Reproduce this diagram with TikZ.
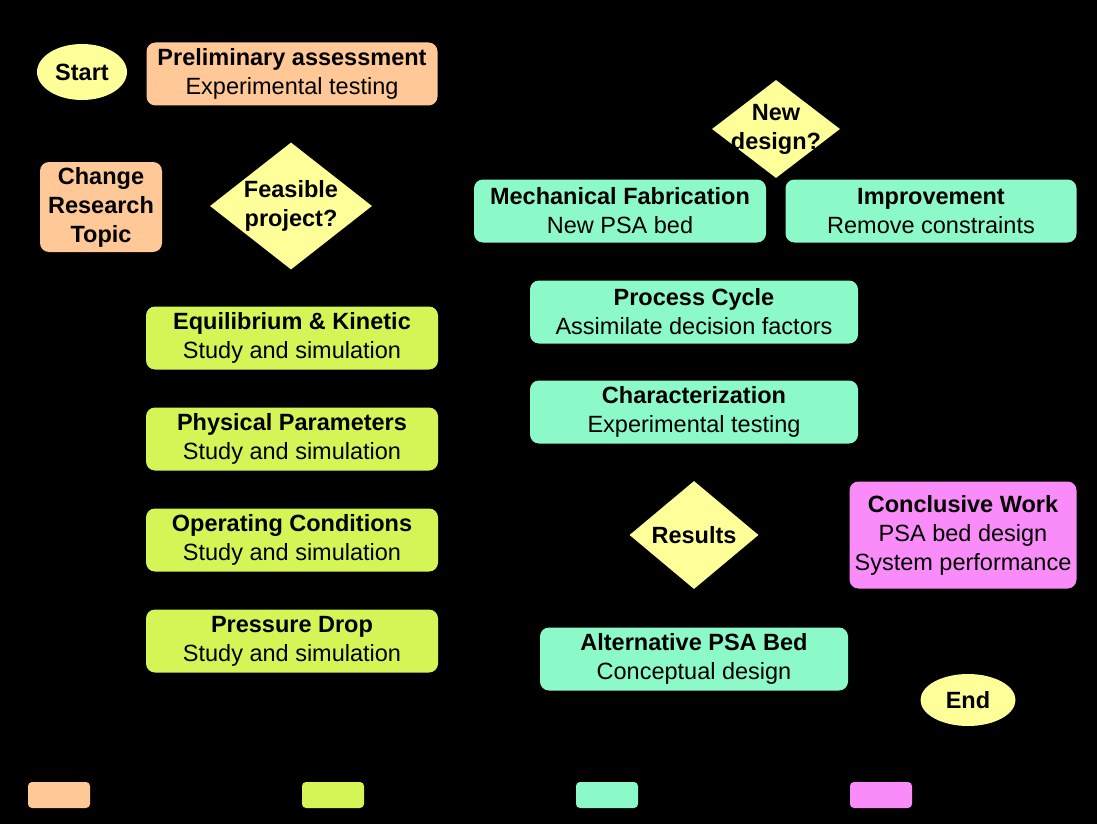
\documentclass[tikz,border=0pt]{standalone}
\usepackage{fontspec}
\setmainfont{Liberation Sans}
\usetikzlibrary{shapes.geometric}
\definecolor{peach}{RGB}{255,200,150}
\definecolor{lime}{RGB}{212,245,85}
\definecolor{aqua}{RGB}{140,250,200}
\definecolor{violet}{RGB}{250,140,250}
\definecolor{paleyel}{RGB}{255,255,153}
\tikzset{
  box/.style={rounded corners=9pt, draw=none, align=center, inner sep=0pt, text=black, font=\fontsize{23.5}{29}\selectfont},
  peachbox/.style={box, fill=peach},
  limebox/.style={box, fill=lime, minimum width=292pt, minimum height=63pt},
  aquabox/.style={box, fill=aqua, minimum height=63pt},
  violetbox/.style={box, fill=violet},
  decision/.style={diamond, fill=paleyel, draw=none, inner sep=0pt},
  dtext/.style={align=center, inner sep=0pt, text=black, font=\fontsize{23.5}{29}\selectfont\bfseries},
  terminal/.style={ellipse, fill=paleyel, draw=none, inner sep=0pt, font=\fontsize{23.5}{29}\selectfont\bfseries},
  legend/.style={rounded corners=4pt, draw=none, minimum width=62pt, minimum height=26pt, inner sep=0pt}
}
\begin{document}
\begin{tikzpicture}[x=1pt,y=-1pt]
\fill[black] (0,0) rectangle (1097,824);
\useasboundingbox (0,0) rectangle (1097,824);
% terminals
\node[terminal, minimum width=90pt, minimum height=56pt] (start) at (82,72) {Start};
\node[terminal, minimum width=95pt, minimum height=52pt] (end) at (968,700) {End};
% orange
\node[peachbox, minimum width=291pt, minimum height=63pt] (prelim) at (292,74) {\textbf{Preliminary assessment}\\Experimental testing};
\node[peachbox, minimum width=122pt, minimum height=90pt] (change) at (101,207) {\textbf{Change}\\\textbf{Research}\\\textbf{Topic}};
% decisions
\node[decision, minimum width=162pt, minimum height=127pt] (feasible) at (291,206) {};
\node[dtext] (feasibletxt) at (feasible) {Feasible\\project?};
\node[decision, minimum width=128pt, minimum height=98pt] (newdesign) at (776,129) {};
\node[dtext] (newdesigntxt) at (newdesign) {New\\design?};
\node[decision, minimum width=129pt, minimum height=108pt] (results) at (694,535) {};
\node[dtext] (resultstxt) at (results) {Results};
% lime
\node[limebox] (equil) at (292,338) {\textbf{Equilibrium \& Kinetic}\\Study and simulation};
\node[limebox] (phys) at (292,439) {\textbf{Physical Parameters}\\Study and simulation};
\node[limebox] (oper) at (292,540) {\textbf{Operating Conditions}\\Study and simulation};
\node[limebox] (pdrop) at (292,641) {\textbf{Pressure Drop}\\Study and simulation};
% aqua
\node[aquabox, minimum width=292pt] (mech) at (620,211) {\textbf{Mechanical Fabrication}\\New PSA bed};
\node[aquabox, minimum width=291pt] (improve) at (931,211) {\textbf{Improvement}\\Remove constraints};
\node[aquabox, minimum width=328pt] (cycle) at (694,312) {\textbf{Process Cycle}\\Assimilate decision factors};
\node[aquabox, minimum width=328pt] (charac) at (694,412) {\textbf{Characterization}\\Experimental testing};
\node[aquabox, minimum width=308pt] (alt) at (694,659) {\textbf{Alternative PSA Bed}\\Conceptual design};
% violet
\node[violetbox, minimum width=227pt, minimum height=107pt] (concl) at (963,535) {\textbf{Conclusive Work}\\PSA bed design\\System performance};
% legend
\node[legend, fill=peach] (lg1) at (59,795) {};
\node[legend, fill=lime] (lg2) at (333,795) {};
\node[legend, fill=aqua] (lg3) at (607,795) {};
\node[legend, fill=violet] (lg4) at (881,795) {};
\end{tikzpicture}
\end{document}
